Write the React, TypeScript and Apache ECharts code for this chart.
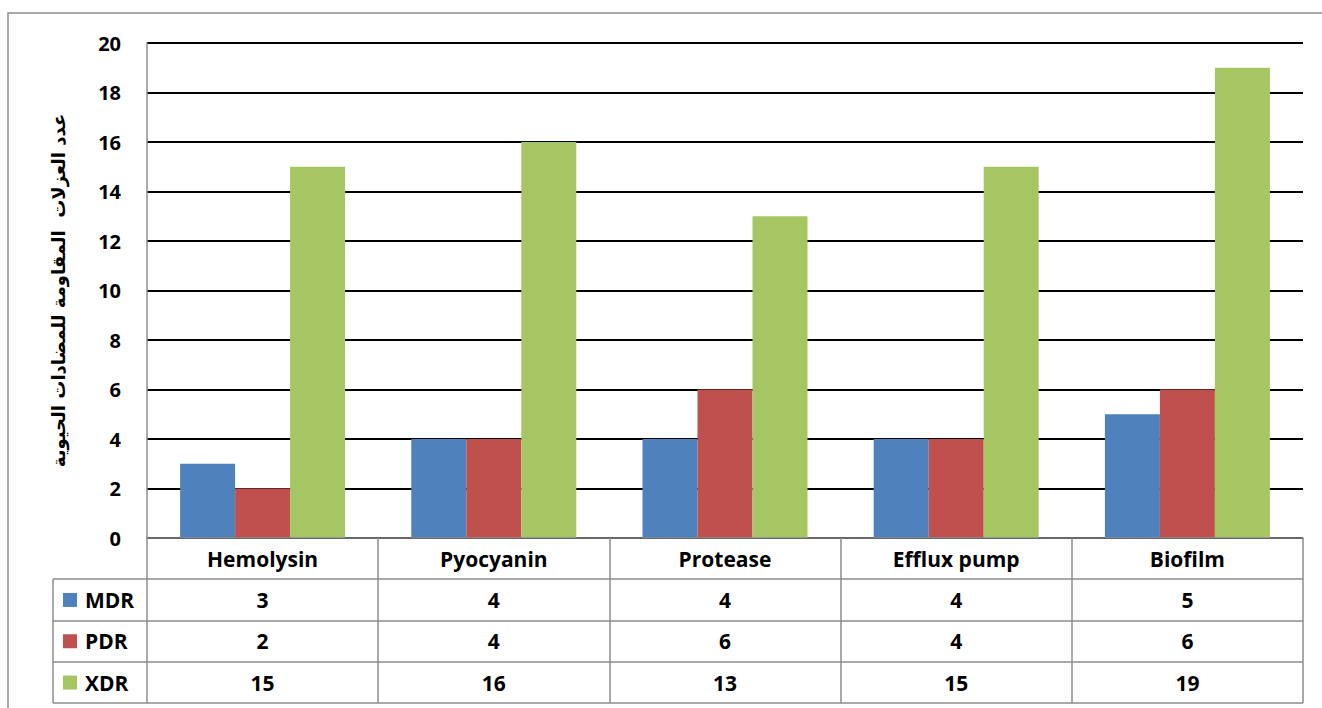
import React, { useEffect, useRef } from "react";
import * as echarts from "echarts";

// Virulence factors and the number of resistant isolates per resistance class
const categories = ["Hemolysin", "Pyocyanin", "Protease", "Efflux pump", "Biofilm"];
const seriesNames = ["MDR", "PDR", "XDR"];
const mdrValues = [3, 4, 4, 4, 5];
const pdrValues = [2, 4, 6, 4, 6];
const xdrValues = [15, 16, 13, 15, 19];
const seriesColors = ["#4F81BD", "#C0504D", "#A6C664"];
const yAxisTitle = "عدد العزلات  المقاومة للمضادات الحيوية";

const W = 1322;
const H = 708;
const GRID_LEFT = 147;
const GRID_TOP = 43;
const GRID_RIGHT_X = 1303;
const AXIS_Y = 538;
const ROW_H = 41.3;
const TABLE_LEFT = 53;
const FONT = "'Open Sans', Lato, sans-serif";
const GRAY = "#8C8C8C";

export default function App() {
  const ref = useRef<HTMLDivElement>(null);

  useEffect(() => {
    if (!ref.current) return;
    const chart = echarts.init(ref.current, null, { renderer: "svg" });
    const values = [mdrValues, pdrValues, xdrValues];

    // Outer frame, table grid lines below the plot and the legend column
    const graphics: any[] = [
      {
        type: "rect",
        shape: { x: 8, y: 13, width: 1400, height: 800 },
        style: { fill: "none", stroke: GRAY, lineWidth: 1.5 },
        silent: true,
        z: 0,
      },
    ];
    for (let r = 1; r <= 4; r++) {
      const y = Math.round(AXIS_Y + r * ROW_H);
      graphics.push({
        type: "line",
        shape: { x1: TABLE_LEFT, y1: y, x2: GRID_RIGHT_X, y2: y },
        style: { stroke: GRAY, lineWidth: 1.5 },
        z: 5,
      });
    }
    graphics.push({
      type: "line",
      shape: { x1: TABLE_LEFT, y1: AXIS_Y + ROW_H, x2: TABLE_LEFT, y2: AXIS_Y + 4 * ROW_H },
      style: { stroke: GRAY, lineWidth: 1.5 },
      z: 5,
    });
    seriesNames.forEach((name, i) => {
      const cy = AXIS_Y + ROW_H * (i + 1.5);
      graphics.push({
        type: "rect",
        shape: { x: 63, y: cy - 7, width: 14, height: 14 },
        style: { fill: seriesColors[i] },
        z: 5,
      });
      graphics.push({
        type: "text",
        x: 85,
        y: cy,
        style: {
          text: name,
          fill: "#000",
          font: `bold 21px ${FONT}`,
          textVerticalAlign: "middle",
          textAlign: "left",
        },
        z: 5,
      });
    });

    chart.setOption({
      animation: false,
      backgroundColor: "#fff",
      grid: {
        left: GRID_LEFT,
        top: GRID_TOP,
        right: W - GRID_RIGHT_X,
        bottom: H - AXIS_Y,
        containLabel: false,
      },
      xAxis: {
        type: "category",
        data: categories,
        z: 3,
        axisLine: { show: true, lineStyle: { color: GRAY, width: 1.5 } },
        axisTick: {
          show: true,
          interval: 0,
          length: ROW_H * 4,
          lineStyle: { color: GRAY, width: 1.5 },
        },
        axisLabel: {
          interval: 0,
          margin: 0,
          color: "#000",
          fontFamily: FONT,
          fontWeight: "bold",
          fontSize: 21,
          lineHeight: ROW_H,
          formatter: (v: string, idx: number) =>
            [v, ...values.map((s) => String(s[idx]))].join("\n"),
        },
      },
      yAxis: {
        type: "value",
        min: 0,
        max: 20,
        interval: 2,
        z: 1,
        name: yAxisTitle,
        nameLocation: "middle",
        nameGap: 80,
        nameRotate: 90,
        nameTextStyle: {
          fontFamily: "'DejaVu Sans', sans-serif",
          fontWeight: "bold",
          fontSize: 18,
          color: "#000",
        },
        axisLine: { show: true, lineStyle: { color: GRAY, width: 1.5 } },
        axisTick: { show: false },
        axisLabel: {
          margin: 26,
          color: "#000",
          fontFamily: FONT,
          fontWeight: "bold",
          fontSize: 20,
        },
        splitLine: { show: true, lineStyle: { color: "#000", width: 2 } },
      },
      series: seriesNames.map((name, i) => ({
        name,
        type: "bar",
        data: values[i],
        barWidth: 55,
        barGap: "0%",
        itemStyle: { color: seriesColors[i] },
      })),
      graphic: graphics,
    });

    return () => chart.dispose();
  }, []);

  return (
    <div
      ref={ref}
      style={{ position: "absolute", left: 0, top: 0, width: W, height: H }}
    />
  );
}
